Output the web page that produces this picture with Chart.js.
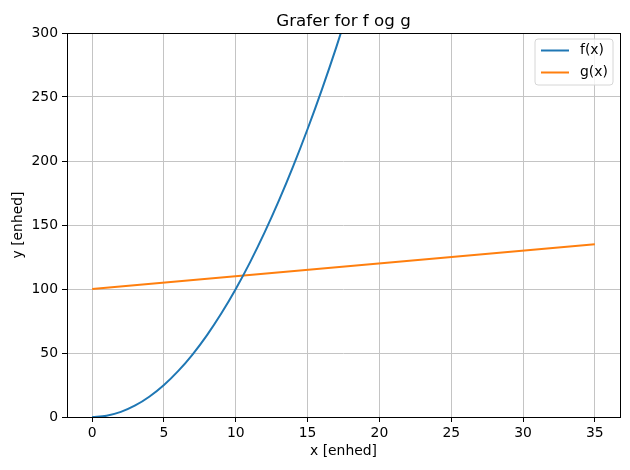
<!DOCTYPE html>
<html>
<head>
<meta charset="utf-8">
<script src="https://cdn.jsdelivr.net/npm/chart.js@4.4.0/dist/chart.umd.min.js"></script>
<style>
  html, body { margin: 0; padding: 0; background: #fff; }
  #wrap { width: 630px; height: 470px; }
</style>
</head>
<body>
<div id="wrap"><canvas id="myChart" width="630" height="470"></canvas></div>
<script>
// f(x)
const fX = [0, 1, 2, 3, 4, 5, 6, 7, 8, 9, 10, 11, 12, 13, 14, 15, 16, 17, 18];
const fY = [0, 1, 4, 9, 16, 25, 36, 49, 64, 81, 100, 121, 144, 169, 196, 225, 256, 289, 324];
// g(x) is a straight line
const gX = [0, 35];
const gY = [100, 135];

const xTicks = [0, 5, 10, 15, 20, 25, 30, 35];
const yTicks = [0, 50, 100, 150, 200, 250, 300];

const FONT = 'DejaVu Sans';

// matplotlib style legend inside the plot + full box + title
const extras = {
  id: 'extras',
  afterDraw(chart) {
    const ctx = chart.ctx;
    const a = chart.chartArea;
    ctx.save();
    // frame
    ctx.strokeStyle = '#000';
    ctx.lineWidth = 1;
    ctx.strokeRect(Math.round(a.left) + 0.5, Math.round(a.top) + 0.5,
      Math.round(a.right - a.left), Math.round(a.bottom - a.top));

    // title
    ctx.fillStyle = '#000';
    ctx.font = '16.7px ' + FONT;
    ctx.textAlign = 'center';
    ctx.textBaseline = 'alphabetic';
    ctx.fillText('Grafer for f og g', (a.left + a.right) / 2, 26);

    // legend
    const bx = 535, by = 39, bw = 78, bh = 46, r = 3;
    ctx.beginPath();
    ctx.moveTo(bx + r, by);
    ctx.arcTo(bx + bw, by, bx + bw, by + bh, r);
    ctx.arcTo(bx + bw, by + bh, bx, by + bh, r);
    ctx.arcTo(bx, by + bh, bx, by, r);
    ctx.arcTo(bx, by, bx + bw, by, r);
    ctx.closePath();
    ctx.fillStyle = 'rgba(255,255,255,0.8)';
    ctx.fill();
    ctx.strokeStyle = '#d6d6d6';
    ctx.stroke();

    ctx.font = '13.9px ' + FONT;
    ctx.textAlign = 'left';
    ctx.textBaseline = 'middle';
    chart.data.datasets.forEach(function (ds, i) {
      const y = 50.5 + i * 22;
      ctx.strokeStyle = ds.borderColor;
      ctx.lineWidth = 2;
      ctx.beginPath();
      ctx.moveTo(541, y);
      ctx.lineTo(569, y);
      ctx.stroke();
      ctx.fillStyle = '#000';
      ctx.fillText(ds.label, 580, y);
    });
    ctx.restore();
  }
};

const ctx = document.getElementById('myChart').getContext('2d');

new Chart(ctx, {
  type: 'scatter',
  data: {
    datasets: [{
      label: 'f(x)',
      data: fX.map((x, i) => ({ x: x, y: fY[i] })),
      showLine: true,
      borderColor: '#1f77b4',
      borderWidth: 2,
      pointRadius: 0,
      cubicInterpolationMode: 'monotone'
    }, {
      label: 'g(x)',
      data: gX.map((x, i) => ({ x: x, y: gY[i] })),
      showLine: true,
      borderColor: '#ff7f0e',
      borderWidth: 2,
      pointRadius: 0
    }]
  },
  options: {
    responsive: false,
    animation: false,
    layout: { padding: { top: 33, right: 10, left: 0, bottom: 0 } },
    plugins: {
      legend: { display: false },
      tooltip: { enabled: false }
    },
    scales: {
      x: {
        type: 'linear',
        min: -1.75,
        max: 36.75,
        afterBuildTicks: function (axis) {
          axis.ticks = xTicks.map(v => ({ value: v }));
        },
        afterFit: function (axis) { axis.height = 53; },
        grid: { color: '#c4c4c4', lineWidth: 1, tickColor: '#000', tickLength: 5 },
        border: { display: false },
        ticks: { color: '#000', padding: 3, font: { family: FONT, size: 13.9 }, maxRotation: 0 },
        title: {
          display: true,
          text: 'x [enhed]',
          color: '#000',
          font: { family: FONT, size: 13.9 },
          padding: { top: 0, bottom: 10 }
        }
      },
      y: {
        min: 0,
        max: 300,
        afterBuildTicks: function (axis) {
          axis.ticks = yTicks.map(v => ({ value: v }));
        },
        afterFit: function (axis) { axis.width = 67; },
        grid: { color: '#c4c4c4', lineWidth: 1, tickColor: '#000', tickLength: 5 },
        border: { display: false },
        ticks: { color: '#000', padding: 4, font: { family: FONT, size: 13.9 } },
        title: {
          display: true,
          text: 'y [enhed]',
          color: '#000',
          font: { family: FONT, size: 13.9 },
          padding: { top: 10, bottom: 0 }
        }
      }
    }
  },
  plugins: [extras]
});
</script>
</body>
</html>
